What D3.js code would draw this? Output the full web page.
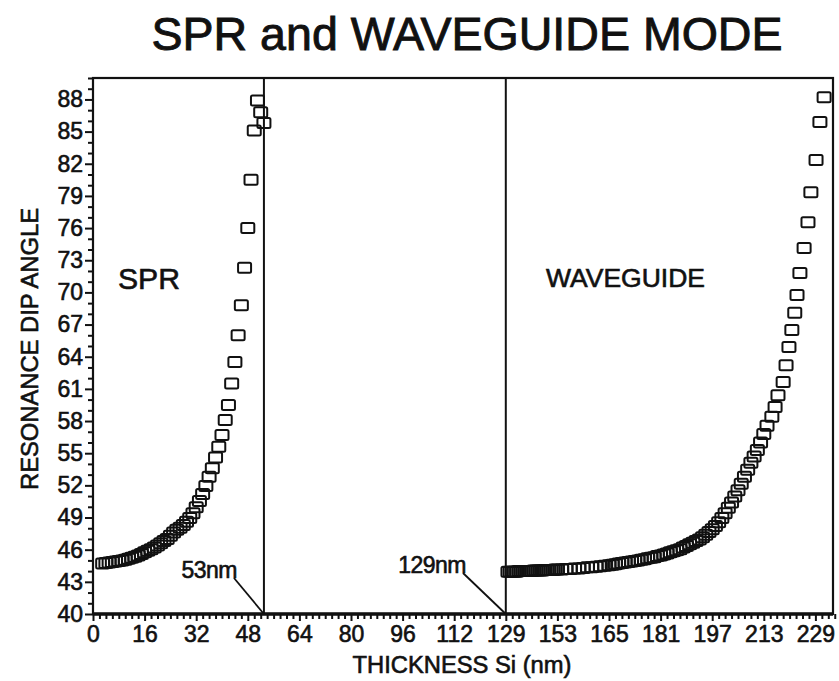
<!DOCTYPE html>
<html>
<head>
<meta charset="utf-8">
<script src="https://cdn.jsdelivr.net/npm/d3@7/dist/d3.min.js"></script>
<style>
  html, body { margin: 0; padding: 0; background: #fff; }
  svg { display: block; font-family: "Liberation Sans", Arial, Helvetica, sans-serif; }
  text { stroke: #111; stroke-width: 0.6px; paint-order: stroke; }
</style>
</head>
<body>
<svg id="chart" width="839" height="681"></svg>
<script>
// Tick labels of the thickness axis (nm) and the angle axis (degrees)
const xTickValues = [0, 16, 32, 48, 64, 80, 96, 112, 129, 153, 165, 181, 197, 213, 229];
const yTickValues = [40, 43, 46, 49, 52, 55, 58, 61, 64, 67, 70, 73, 76, 79, 82, 85, 88];

// Surface plasmon resonance branch: Si thickness (nm) and resonance dip angle (deg)
const sprThickness = [3, 4, 5, 6, 7, 8, 9, 10, 11, 12, 13, 14, 15, 16, 17, 18, 19, 20, 21, 22,
  23, 24, 25, 26, 27, 28, 29, 30, 31, 32, 33, 34, 35, 36, 37, 38, 39, 40, 41, 42,
  43, 44, 45, 46, 47, 48, 49, 50, 51, 52, 53];
const sprAngle = [44.7, 44.75, 44.8, 44.85, 44.9, 44.95, 45.0, 45.05, 45.15, 45.25, 45.35, 45.45, 45.6, 45.75, 45.9, 46.05, 46.2, 46.4, 46.6, 46.8,
  47.0, 47.3, 47.6, 47.85, 48.05, 48.3, 48.6, 48.95, 49.4, 49.95, 50.55, 51.2, 51.95, 52.8, 53.6, 54.6, 55.6, 56.7, 58.1, 59.5,
  61.5, 63.5, 66.0, 68.8, 72.3, 76.0, 80.5, 85.1, 87.9, 86.8, 85.8];

// Waveguide mode branch
const wgThickness = [130, 131, 132, 133, 134, 135, 136, 137, 138, 139, 140, 141, 142, 143, 144, 145, 146, 147, 148, 149,
  150, 151, 152, 153, 154, 155, 156, 157, 158, 159, 160, 161, 162, 163, 164, 165, 166, 167, 168, 169,
  170, 171, 172, 173, 174, 175, 176, 177, 178, 179, 180, 181, 182, 183, 184, 185, 186, 187, 188, 189,
  190, 191, 192, 193, 194, 195, 196, 197, 198, 199, 200, 201, 202, 203, 204, 205, 206, 207, 208, 209,
  210, 211, 212, 213, 214, 215.5, 216.5, 217.4, 219.0, 219.9, 220.8, 221.7, 222.6, 223.3, 224.2, 225.5, 226.7, 227.6, 229.2, 230.4,
  231.7];
const wgAngle = [43.95, 43.95, 43.95, 43.95, 43.95, 44.0, 44.0, 44.0, 44.0, 44.0, 44.0, 44.0, 44.05, 44.05, 44.05, 44.05, 44.05, 44.1, 44.1, 44.1,
  44.1, 44.1, 44.15, 44.15, 44.15, 44.2, 44.2, 44.25, 44.25, 44.3, 44.35, 44.35, 44.4, 44.45, 44.5, 44.55, 44.6, 44.65, 44.7, 44.75,
  44.8, 44.85, 44.9, 44.95, 45.0, 45.05, 45.1, 45.2, 45.25, 45.3, 45.4, 45.45, 45.55, 45.65, 45.75, 45.85, 45.95, 46.05, 46.2, 46.35,
  46.5, 46.65, 46.8, 46.95, 47.15, 47.4, 47.65, 47.9, 48.2, 48.55, 48.95, 49.4, 49.9, 50.4, 50.95, 51.55, 52.15, 52.8, 53.45, 54.1,
  54.7, 55.3, 56.0, 56.8, 57.55, 58.4, 59.3, 60.4, 61.65, 63.2, 64.9, 66.5, 68.1, 69.75, 71.8, 74.15, 76.55, 79.35, 82.35, 85.9,
  88.2];

// Cut-off thicknesses marked on the plot
const cutoffs = [
  { value: 53, label: "53nm" },
  { value: 129, label: "129nm" }
];

const titleText = "SPR and WAVEGUIDE MODE";
const xTitle = "THICKNESS Si (nm)";
const yTitle = "RESONANCE DIP ANGLE";

// ---- layout ----
const plot = { left: 93, right: 833, top: 78, bottom: 614 };
const ink = "#111";

const svg = d3.select("#chart");

// Thickness axis: labelled ticks sit at equal spacing, so the scale is piecewise linear
const step = 51.6;
const tickPx = xTickValues.map((d, i) => plot.left + i * step);
const lastTick = xTickValues[xTickValues.length - 1];
const lastSpan = xTickValues[xTickValues.length - 1] - xTickValues[xTickValues.length - 2];
const xEnd = lastTick + (plot.right - tickPx[tickPx.length - 1]) / step * lastSpan;
const x = d3.scaleLinear()
  .domain([...xTickValues, xEnd])
  .range([...tickPx, plot.right]);

const y = d3.scaleLinear().domain([40, 90]).range([plot.bottom, plot.top]);

// ---- minor ticks ----
const xMinor = [];
for (let i = 0; i < xTickValues.length - 1; i++) {
  const a = xTickValues[i], b = xTickValues[i + 1];
  for (let k = 1; k < 8; k++) xMinor.push(a + (b - a) * k / 8);
}
for (let k = 1; k < 4; k++) xMinor.push(lastTick + lastSpan * k / 8);
const yMinor = d3.range(40, 90.01, 1).filter(v => !yTickValues.includes(v));

// ---- axes ----
const xAxisMinor = svg.append("g")
  .attr("transform", `translate(0,${plot.bottom})`)
  .call(d3.axisBottom(x).tickValues(xMinor).tickSize(5).tickFormat(""));
const xAxis = svg.append("g")
  .attr("transform", `translate(0,${plot.bottom})`)
  .call(d3.axisBottom(x).tickValues(xTickValues).tickSize(7).tickPadding(5).tickFormat(d3.format("d")));

const yAxisMinor = svg.append("g")
  .attr("transform", `translate(${plot.left},0)`)
  .call(d3.axisLeft(y).tickValues(yMinor).tickSize(5).tickFormat(""));
const yAxis = svg.append("g")
  .attr("transform", `translate(${plot.left},0)`)
  .call(d3.axisLeft(y).tickValues(yTickValues).tickSize(8).tickPadding(2).tickFormat(d3.format("d")));

[xAxisMinor, xAxis, yAxisMinor, yAxis].forEach(g => {
  g.select(".domain").remove();
  g.selectAll(".tick line").attr("stroke", ink).attr("stroke-width", 2);
  g.selectAll(".tick text")
    .attr("fill", ink)
    .style("font-size", "23px");
});

// ---- frame ----
svg.append("rect")
  .attr("x", plot.left).attr("y", plot.top)
  .attr("width", plot.right - plot.left).attr("height", plot.bottom - plot.top)
  .attr("fill", "none").attr("stroke", ink).attr("stroke-width", 2.2);
svg.append("line")
  .attr("x1", plot.left).attr("x2", plot.right)
  .attr("y1", plot.bottom).attr("y2", plot.bottom)
  .attr("stroke", ink).attr("stroke-width", 3.5);

// ---- cut-off lines with callouts ----
const calloutAnchor = { 53: { tx: 237, ty: 578 }, 129: { tx: 466, ty: 573 } };
cutoffs.forEach(c => {
  const cx = x(c.value);
  svg.append("line")
    .attr("x1", cx).attr("x2", cx)
    .attr("y1", y(90)).attr("y2", y(40))
    .attr("stroke", ink).attr("stroke-width", 2);
  const a = calloutAnchor[c.value];
  svg.append("text")
    .attr("x", a.tx).attr("y", a.ty)
    .attr("text-anchor", "end")
    .attr("fill", ink)
    .style("font-size", "23px")
    .style("letter-spacing", "-0.5px")
    .text(c.label);
  svg.append("line")
    .attr("x1", a.tx - 3).attr("y1", a.ty)
    .attr("x2", cx).attr("y2", y(40))
    .attr("stroke", ink).attr("stroke-width", 1.8);
});

// ---- data markers: open squares ----
function drawSeries(xs, ys) {
  svg.append("g")
    .selectAll("rect")
    .data(xs.map((d, i) => [d, ys[i]]))
    .join("rect")
    .attr("x", d => x(d[0]) - 6.5)
    .attr("y", d => y(d[1]) - 5)
    .attr("width", 13)
    .attr("height", 10)
    .attr("rx", 1.5)
    .attr("fill", "none")
    .attr("stroke", ink)
    .attr("stroke-width", 2);
}
drawSeries(sprThickness, sprAngle);
drawSeries(wgThickness, wgAngle);

// ---- region labels ----
svg.append("text")
  .attr("x", 118).attr("y", 289)
  .attr("fill", ink)
  .style("font-size", "29px")
  .attr("textLength", 62).attr("lengthAdjust", "spacingAndGlyphs")
  .text("SPR");
svg.append("text")
  .attr("x", 546).attr("y", 287)
  .attr("fill", ink)
  .style("font-size", "25px")
  .attr("textLength", 159).attr("lengthAdjust", "spacingAndGlyphs")
  .text("WAVEGUIDE");

// ---- titles ----
svg.append("text")
  .attr("x", 467).attr("y", 50)
  .attr("text-anchor", "middle")
  .attr("fill", ink)
  .style("font-size", "46px")
  .style("stroke-width", "0.9px")
  .attr("textLength", 631).attr("lengthAdjust", "spacingAndGlyphs")
  .text(titleText);

svg.append("text")
  .attr("x", 462).attr("y", 673)
  .attr("text-anchor", "middle")
  .attr("fill", ink)
  .style("font-size", "23px")
  .attr("textLength", 219).attr("lengthAdjust", "spacingAndGlyphs")
  .text(xTitle);

svg.append("text")
  .attr("transform", "translate(38,349) rotate(-90)")
  .attr("text-anchor", "middle")
  .attr("fill", ink)
  .style("font-size", "23px")
  .attr("textLength", 282).attr("lengthAdjust", "spacingAndGlyphs")
  .text(yTitle);
</script>
</body>
</html>
